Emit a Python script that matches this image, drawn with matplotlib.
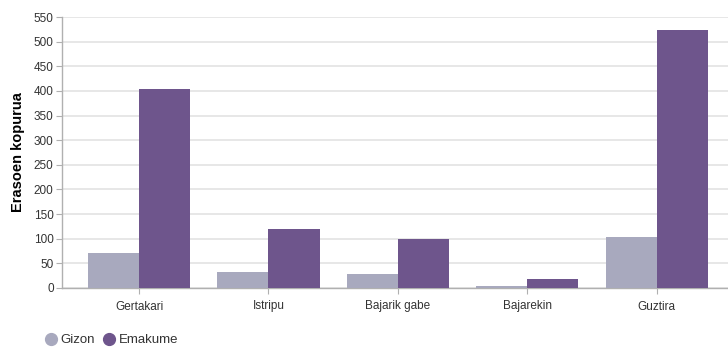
import numpy as np
import matplotlib
matplotlib.use("Agg")
import matplotlib.pyplot as plt
from matplotlib.lines import Line2D

plt.rcParams.update({
    "font.family": ["Liberation Sans", "DejaVu Sans"],
})

categories = ["Gertakari", "Istripu", "Bajarik gabe", "Bajarekin", "Guztira"]
gizon = [72, 32, 28, 5, 104]
emakume = [404, 120, 100, 19, 524]
y_ticks = list(range(0, 551, 50))

GIZON_C = "#a8a9be"
EMAKUME_C = "#6e558c"
TEXT_C = "#333333"

fig = plt.figure(figsize=(7.28, 3.47), dpi=100)
ax = fig.add_axes([62 / 728, 1 - 288 / 347, 1 - 62 / 728, (288 - 17) / 347])

x = np.arange(len(categories))
w = 0.395
ax.bar(x - w / 2, gizon, width=w, color=GIZON_C, zorder=3)
ax.bar(x + w / 2, emakume, width=w, color=EMAKUME_C, zorder=3)

ax.set_xlim(-0.595, 4.55)
ax.set_ylim(0, 550)
ax.set_yticks(y_ticks)
ax.set_xticks(x)
ax.set_xticklabels(categories)
ax.yaxis.grid(True, color="#e3e3e3", linewidth=1.2, zorder=0)
ax.set_axisbelow(True)

for s in ["top", "right"]:
    ax.spines[s].set_visible(False)
for s in ["left", "bottom"]:
    ax.spines[s].set_color("#b0b0b0")
    ax.spines[s].set_linewidth(1.0)

ax.tick_params(axis="y", length=4, color="#b0b0b0", labelsize=8.5,
               labelcolor=TEXT_C, pad=2)
ax.tick_params(axis="x", length=4, color="#b0b0b0", labelsize=8.5,
               labelcolor=TEXT_C, pad=5)

ax.set_ylabel("Erasoen kopurua", fontsize=10.5, fontweight="bold",
              color="black", labelpad=6)

handles = [
    Line2D([], [], marker="o", linestyle="none", markersize=8.5,
           markerfacecolor=GIZON_C, markeredgecolor=GIZON_C, label="Gizon"),
    Line2D([], [], marker="o", linestyle="none", markersize=8.5,
           markerfacecolor=EMAKUME_C, markeredgecolor=EMAKUME_C, label="Emakume"),
]
fig.legend(handles=handles, loc="center left", bbox_to_anchor=(45 / 728, 1 - 340 / 347),
           ncol=2, frameon=False, fontsize=9.5, handlelength=0.9, handletextpad=0.3,
           columnspacing=0.6, borderaxespad=0, borderpad=0, labelcolor=TEXT_C)

fig.savefig("out.png", dpi=100)
